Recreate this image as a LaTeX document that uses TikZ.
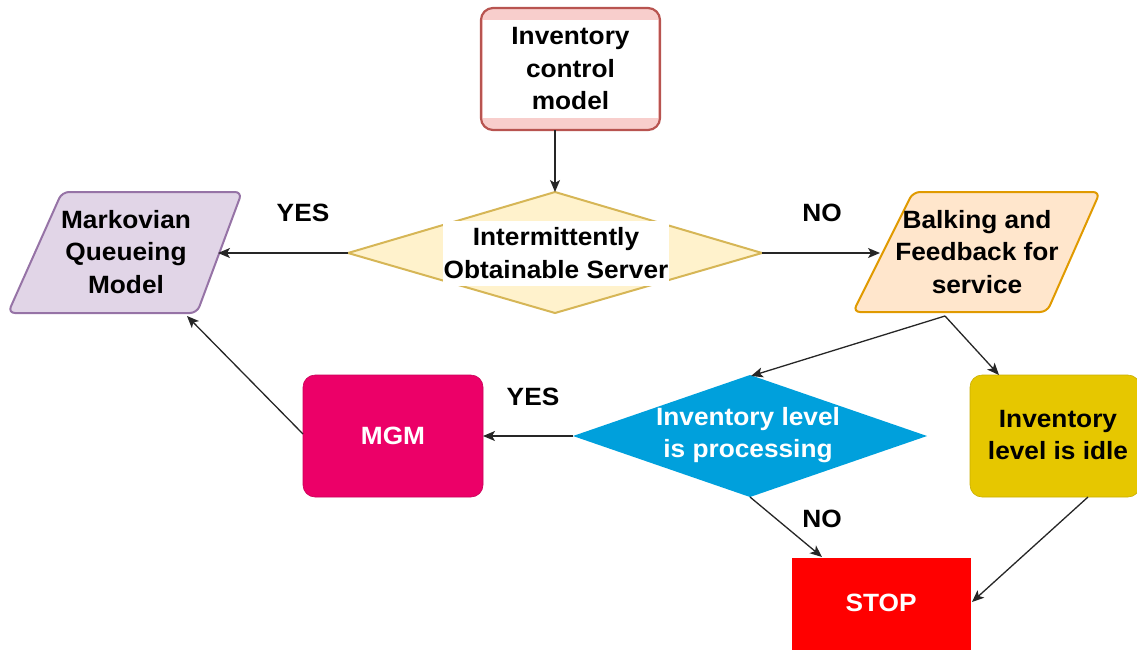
\documentclass[tikz,border=0pt]{standalone}
\usepackage{fontspec}
\setmainfont{Liberation Sans}[FakeStretch=1.05]
\usetikzlibrary{arrows.meta}
\definecolor{redS}{HTML}{B85450}
\definecolor{redF}{HTML}{F8CECC}
\definecolor{yelS}{HTML}{D6B656}
\definecolor{yelF}{HTML}{FFF2CC}
\definecolor{purS}{HTML}{9673A6}
\definecolor{purF}{HTML}{E1D5E7}
\definecolor{orS}{HTML}{E09A00}
\definecolor{orF}{HTML}{FFE6CC}
\definecolor{mgmC}{HTML}{EC0068}
\definecolor{blueC}{HTML}{00A0DC}
\definecolor{goldC}{HTML}{E6C700}
\definecolor{goldS}{HTML}{C9AE00}
\definecolor{stopC}{HTML}{FF0000}
\begin{document}
\begin{tikzpicture}[x=1pt,y=-1pt,
  lbl/.style={font=\fontsize{25}{32.5}\selectfont\bfseries, align=center, text=black, inner sep=0pt},
  wlbl/.style={lbl, text=white},
  arr/.style={draw=black!85, line width=1.3pt, -{Stealth[length=12pt,width=10pt,inset=3pt]}},
  boxshape/.style={rounded corners=12pt, inner sep=0pt},
]
\useasboundingbox (0,0) rectangle (1137,649);

% top box
\node[boxshape, draw=redS, fill=redF, line width=2.2pt, minimum width=179pt, minimum height=122pt] (ctrl) at (570.5,69) {};
\fill[white] (482.6,20) rectangle (658.4,118);
\node[lbl] (ctrltext) at (570.5,69) {Inventory\\control\\model};

% diamond 1
\draw[draw=yelS, fill=yelF, line width=2pt, line join=miter] (555,192) -- (762,253) -- (555,313) -- (348,253) -- cycle;
\fill[white] (443,221) rectangle (669,286);
\node[lbl] (ios) at (556,253) {Intermittently\\Obtainable Server};

% Markovian parallelogram
\draw[draw=purS, fill=purF, line width=2pt, rounded corners=7pt] (62,192) -- (242,192) -- (197,313) -- (8,313) -- cycle;
\node[lbl] (mqm) at (126,252) {Markovian\\Queueing\\Model};

% Balking parallelogram
\draw[draw=orS, fill=orF, line width=2pt, rounded corners=7pt] (913,192) -- (1100,192) -- (1047,312) -- (853,312) -- cycle;
\node[lbl] (bal) at (977,252) {Balking and\\Feedback for\\service};

% MGM
\node[boxshape, fill=mgmC, draw=mgmC!85!black, line width=0.6pt, minimum width=180pt, minimum height=122pt] (mgm) at (393,436) {};
\node[wlbl] (mgmtext) at (393,436) {MGM};

% blue diamond
\fill[blueC] (750,375) -- (927,436) -- (750,497) -- (573,436) -- cycle;
\node[wlbl] (proc) at (748,435) {Inventory level\\is processing};

% yellow box
\node[boxshape, fill=goldC, draw=goldS, line width=0.6pt, minimum width=170pt, minimum height=122pt] (idle) at (1055,436) {};
\node[lbl] (idletext) at (1058,435) {Inventory\\level is idle};

% STOP
\fill[stopC] (792,558) rectangle (971,660);
\node[wlbl] (stop) at (881,603) {STOP};

% labels
\node[lbl] (yes1) at (303,213) {YES};
\node[lbl] (no1) at (822,213) {NO};
\node[lbl] (yes2) at (533,397) {YES};
\node[lbl] (no2) at (822,519) {NO};

% connector coordinates
\coordinate (ctrlS) at (555,130);
\coordinate (iosN) at (555,192);
\coordinate (iosW) at (348,253);
\coordinate (iosE) at (762,253);
\coordinate (mqmE) at (218,253);
\coordinate (mqmS) at (187,316);
\coordinate (balW) at (880,253);
\coordinate (balS) at (945,316);
\coordinate (procN) at (751,376);
\coordinate (procW) at (573,436);
\coordinate (procS) at (750,497);
\coordinate (idleN) at (999,375);
\coordinate (idleS) at (1088,497);
\coordinate (mgmE) at (483,436);
\coordinate (mgmW) at (303,434);
\coordinate (stopN) at (822,557);
\coordinate (stopE) at (972,602);

\draw[arr] (ctrlS) -- (iosN);
\draw[arr] (iosW) -- (mqmE);
\draw[arr] (iosE) -- (balW);
\draw[arr] (balS) -- (procN);
\draw[arr] (balS) -- (idleN);
\draw[arr] (procW) -- (mgmE);
\draw[arr] (mgmW) -- (mqmS);
\draw[arr] (procS) -- (stopN);
\draw[arr] (idleS) -- (stopE);
\end{tikzpicture}
\end{document}
